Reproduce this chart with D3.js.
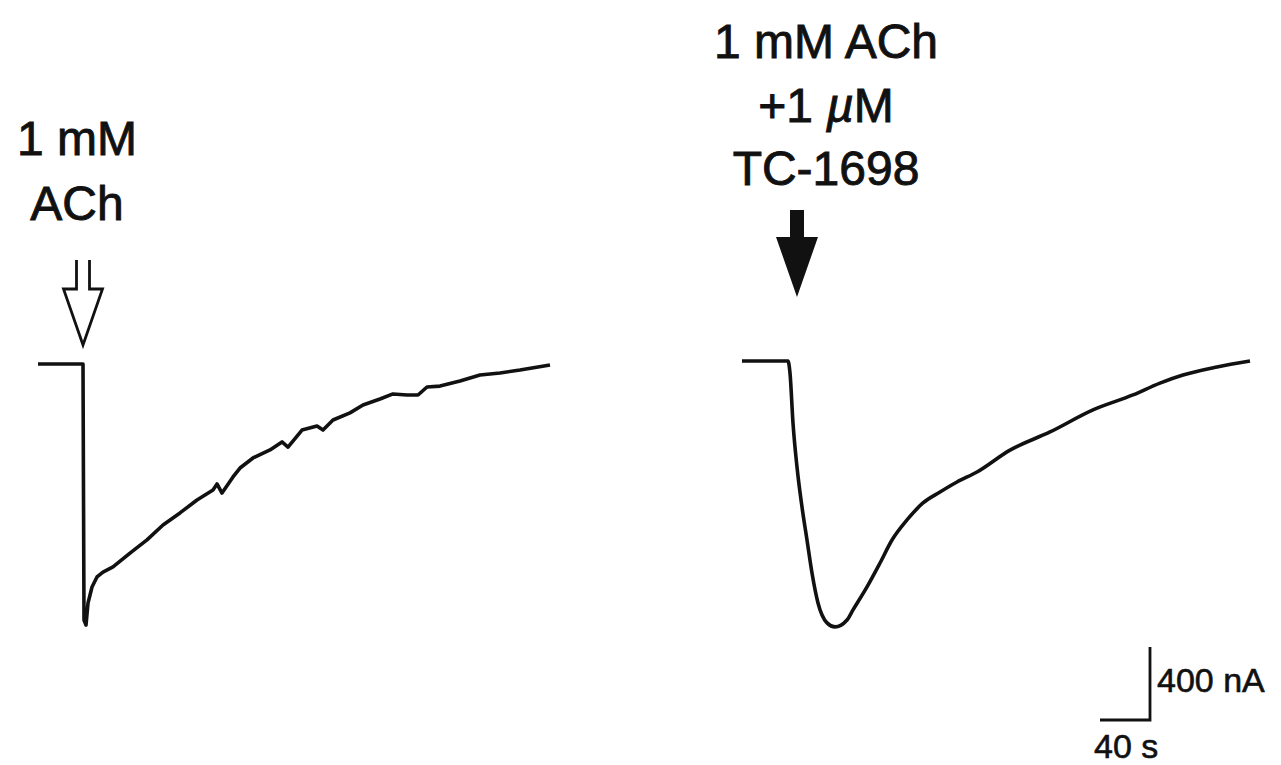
<!DOCTYPE html>
<html>
<head>
<meta charset="utf-8">
<script src="https://cdn.jsdelivr.net/npm/d3@7"></script>
<style>
  html, body { margin: 0; padding: 0; background: #ffffff; }
  svg { display: block; }
  text { font-family: "Liberation Sans", Arial, Helvetica, sans-serif; fill: #111; }
</style>
</head>
<body>
<svg id="chart" width="1281" height="765"></svg>
<script>
// ---- Data (time in s, current in nA) ----
// Left trace: 1 mM ACh
const leftTime = [0, 36, 36.8, 38.4, 40, 43.2, 47.2, 52, 60, 73.6, 87.2, 100, 113.6, 127.2, 140, 143.2, 147.2, 156, 161.6, 172, 185.6, 195.2, 200, 211.2, 223.2, 228, 236, 249.6, 260, 273.6, 284, 295.2, 304, 311.2, 321.6, 337.6, 353.6, 369.6, 385.6, 409.6];
const leftCurrent = [0, 0, -1403, -1430, -1310, -1222, -1167, -1140, -1112, -1036, -964, -882, -816, -745, -690, -657, -707, -619, -570, -515, -471, -427, -455, -362, -340, -362, -307, -268, -225, -192, -164, -170, -170, -126, -121, -93, -60, -49, -33, -5];
// Right trace: 1 mM ACh + 1 µM TC-1698
const rightTime = [0, 36.8, 38.4, 40.8, 44, 48, 52, 56, 60.8, 68, 74.4, 84, 88.8, 100, 110.4, 120, 132, 144.8, 158.4, 172, 188, 214.4, 246.4, 280.8, 312.8, 334.4, 352.8, 380, 406.4];
const rightCurrent = [0, 0, -66, -340, -581, -800, -981, -1162, -1326, -1435, -1457, -1419, -1364, -1238, -1107, -981, -871, -778, -718, -663, -608, -488, -389, -268, -186, -121, -77, -33, 0];
// Application times (s) for arrows
const leftApplication = 36;
const rightApplication = 44;
// Labels
const leftLabel = ["1 mM", "ACh"];
const rightLabel = ["1 mM ACh", "+1 |µ|M", "TC-1698"];
// Scale bar
const scaleTime = 40;      // s
const scaleCurrent = 400;  // nA
const scaleTimeLabel = "40 s";
const scaleCurrentLabel = "400 nA";

// ---- Scales ----
const pxPerSec = 1.25;
const pxPerNA = 73 / 400;
const xL = d3.scaleLinear().domain([0, 410]).range([38, 38 + 410 * pxPerSec]);
const xR = d3.scaleLinear().domain([0, 410]).range([742, 742 + 410 * pxPerSec]);
const yL = d3.scaleLinear().domain([0, -1500]).range([364, 364 + 1500 * pxPerNA]);
const yR = d3.scaleLinear().domain([0, -1500]).range([361, 361 + 1500 * pxPerNA]);

const svg = d3.select("#chart");

// ---- Traces ----
const leftData = leftTime.map((t, i) => ({t, v: leftCurrent[i]}));
const rightData = rightTime.map((t, i) => ({t, v: rightCurrent[i]}));

svg.append("path")
  .datum(leftData)
  .attr("fill", "none")
  .attr("stroke", "#111")
  .attr("stroke-width", 3.6)
  .attr("stroke-linejoin", "round")
  .attr("d", d3.line().x(d => xL(d.t)).y(d => yL(d.v)).curve(d3.curveLinear));

svg.append("path")
  .datum(rightData)
  .attr("fill", "none")
  .attr("stroke", "#111")
  .attr("stroke-width", 3.6)
  .attr("stroke-linejoin", "round")
  .attr("d", d3.line().x(d => xR(d.t)).y(d => yR(d.v)).curve(d3.curveMonotoneX));

// ---- Arrows ----
// Open arrow (left)
{
  const cx = xL(leftApplication);
  const tipY = 345, headY = 289, topY = 260;
  const sw = 6.5, hw = 19.5;
  const p = d3.path();
  p.moveTo(cx - sw, topY);
  p.lineTo(cx - sw, headY);
  p.lineTo(cx - hw, headY);
  p.lineTo(cx, tipY);
  p.lineTo(cx + hw, headY);
  p.lineTo(cx + sw, headY);
  p.lineTo(cx + sw, topY);
  svg.append("path").attr("d", p.toString())
    .attr("fill", "none").attr("stroke", "#111").attr("stroke-width", 2.8)
    .attr("stroke-linejoin", "miter");
}
// Filled arrow (right)
{
  const cx = xR(rightApplication);
  const tipY = 297, headY = 237, topY = 210;
  const sw = 7, hw = 21;
  const p = d3.path();
  p.moveTo(cx - sw, topY);
  p.lineTo(cx - sw, headY);
  p.lineTo(cx - hw, headY);
  p.lineTo(cx, tipY);
  p.lineTo(cx + hw, headY);
  p.lineTo(cx + sw, headY);
  p.lineTo(cx + sw, topY);
  p.closePath();
  svg.append("path").attr("d", p.toString()).attr("fill", "#111");
}

// ---- Labels ----
function addLabel(lines, cx, firstBaseline, lineGap) {
  lines.forEach((ln, i) => {
    const t = svg.append("text")
      .attr("x", cx).attr("y", firstBaseline + i * lineGap)
      .attr("text-anchor", "middle")
      .attr("font-size", 48)
      .attr("stroke", "#111").attr("stroke-width", 0.9);
    const parts = ln.split("|");
    parts.forEach((part, j) => {
      if (!part) return;
      const ts = t.append("tspan").text(part);
      if (j % 2 === 1) ts.attr("font-style", "italic");
    });
  });
}
addLabel(leftLabel, 77, 155, 65);
addLabel(rightLabel, 826, 58, 63.5);

// ---- Scale bar ----
{
  const cornerX = 1150, cornerY = 720;
  const w = xR(scaleTime) - xR(0);
  const h = yR(-scaleCurrent) - yR(0);
  svg.append("path")
    .attr("d", `M${cornerX - w},${cornerY}H${cornerX}V${cornerY - h}`)
    .attr("fill", "none").attr("stroke", "#111").attr("stroke-width", 2.8);
  svg.append("text").attr("x", cornerX + 7).attr("y", cornerY - 28)
    .attr("font-size", 34).attr("stroke", "#111").attr("stroke-width", 0.6)
    .text(scaleCurrentLabel);
  svg.append("text").attr("x", cornerX - w - 6).attr("y", cornerY + 38)
    .attr("font-size", 34).attr("stroke", "#111").attr("stroke-width", 0.6)
    .text(scaleTimeLabel);
}
</script>
</body>
</html>
